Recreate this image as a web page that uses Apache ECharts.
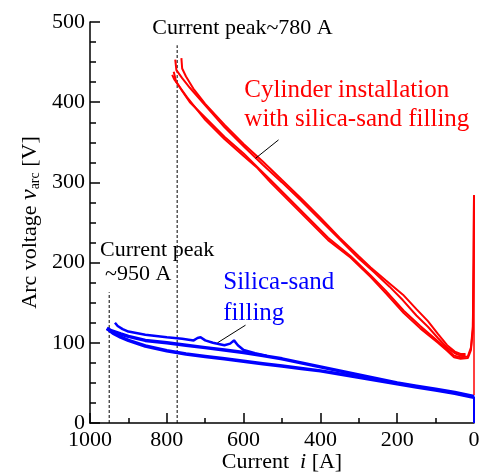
<!DOCTYPE html>
<html>
<head>
<meta charset="utf-8">
<script src="https://cdn.jsdelivr.net/npm/echarts@6/dist/echarts.min.js"></script>
<style>
  html, body { margin: 0; padding: 0; background: #fff; }
  #chart { width: 481px; height: 472px; }
</style>
</head>
<body>
<div id="chart"></div>
<script>
// Arc voltage vs current: red = cylinder + silica sand, blue = silica sand only.
// Each array is [current A, voltage V].

const X_TICKS = [0, 200, 400, 600, 800, 1000];
const Y_TICKS = [0, 100, 200, 300, 400, 500];

// red: upper branch (two cycles)
const redUp1 = [[762,455],[760,442],[750,432],[731,417],[700,398],[650,372],[600,348],[550,326],[500,303],[450,280],[400,256],[350,231],[300,208],[269,194],[230,178],[185,160],[150,142],[120,127],[94,111],[70,97],[50,89],[35,86],[22,86]];
const redUp2 = [[778,453],[775,440],[760,430],[740,418],[700,396],[650,369],[600,345],[550,322],[500,300],[450,277],[400,253],[350,229],[300,205],[260,188],[220,170],[185,153],[150,134],[120,120],[94,106],[70,94],[50,87],[35,84],[22,84]];
// red: lower branch (two cycles), ending in the re-ignition spike at i = 0
const redLo1 = [[786,434],[780,428],[765,418],[747,406],[700,378],[650,354],[600,333],[564,318],[530,300],[480,276],[430,252],[380,228],[321,206],[269,182],[230,162],[183,137],[140,118],[94,100],[70,90],[52,82],[35,80],[16,81],[8,91],[3,116],[1,200],[0,284]];
const redLo2 = [[782,438],[776,426],[760,414],[740,400],[700,381],[650,357],[600,336],[560,317],[530,303],[480,279],[430,255],[380,231],[321,208],[269,184],[230,165],[183,140],[140,121],[94,102],[70,92],[52,84],[35,82],[16,83],[8,94],[3,120],[1,210],[0,284]];
const redDrop = [[0,284],[0,35]];

// blue traces
const blueA = [[956,118],[940,112],[920,107],[900,103],[856,96],[800,90],[750,86],[700,83],[650,80],[600,77],[550,74],[500,71],[450,68],[400,65],[350,61],[300,57],[250,53],[200,49],[150,45],[100,41],[50,37],[10,33],[0,32]];
const blueB = [[956,118],[945,115],[920,111],[900,108],[856,103],[800,100],[750,97],[700,94],[650,91],[600,88],[550,84],[500,80],[450,75],[400,70],[350,65],[300,60],[250,55],[200,50],[150,46],[100,42],[50,38],[10,34],[0,33]];
const blueC = [[935,125],[928,121],[915,117],[900,114],[856,110],[800,107],[760,105],[730,103],[720,106],[712,107],[700,103],[680,100],[650,97],[635,99],[625,103],[615,97],[600,91],[570,87],[540,84]];
const blueDrop = [[0,33],[0,0]];

// current-peak markers and label leader lines
const peak950 = [[950,0],[950,163]];
const peak780 = [[773,0],[773,471]];
const leaderRed = [[509,353],[569,330]];
const leaderBlue = [[595,122],[668,100]];

// annotation texts: [current, voltage, text, colour]
const NOTES = [
  [838, 492, 'Current peak~780 A', '#000000'],
  [974, 216, 'Current peak', '#000000'],
  [961, 185, '~950 A', '#000000'],
  [598, 415, 'Cylinder installation', '#ff0000'],
  [598, 378, 'with silica-sand filling', '#ff0000'],
  [653, 175, 'Silica-sand', '#0000ff'],
  [653, 137, 'filling', '#0000ff'],
];

const FONT = "'Liberation Serif', 'Times New Roman', serif";
const RED = '#ff0000';
const BLUE = '#0000ff';

function trace(data, color, width, extra) {
  return Object.assign({
    type: 'line',
    data,
    showSymbol: false,
    silent: true,
    animation: false,
    lineStyle: { color, width },
    z: 3,
  }, extra || {});
}

const series = [
  trace(blueA, BLUE, 3.5),
  trace(blueB, BLUE, 3.5),
  trace(blueC, BLUE, 2.5),
  trace(blueDrop, BLUE, 2),
  trace(redUp1, RED, 2),
  trace(redUp2, RED, 2),
  trace(redLo1, RED, 2),
  trace(redLo2, RED, 2),
  trace(redDrop, RED, 1.5),
  trace(peak950, '#000', 1, { lineStyle: { color: '#000', width: 1, type: [3, 2] }, z: 2 }),
  trace(peak780, '#000', 1, { lineStyle: { color: '#000', width: 1, type: [3, 2] }, z: 2 }),
  trace(leaderRed, '#000', 1, { z: 4 }),
  trace(leaderBlue, '#000', 1, { z: 4 }),
];

NOTES.forEach(n => {
  const big = n[3] !== '#000000';
  series.push({
    type: 'scatter',
    data: [[n[0], n[1]]],
    symbolSize: 0,
    silent: true,
    animation: false,
    itemStyle: { opacity: 1 },
    label: {
      show: true,
      position: 'right',
      distance: 0,
      formatter: n[2],
      color: n[3],
      opacity: 1,
      textBorderWidth: 0,
      textBorderColor: 'transparent',
      fontFamily: FONT,
      fontSize: big ? 25 : 22,
    },
    z: 5,
  });
});

const chart = echarts.init(document.getElementById('chart'), null, { renderer: 'canvas' });
chart.setOption({
  backgroundColor: '#fff',
  animation: false,
  grid: { left: 90, right: 7, top: 22, bottom: 49, outerBoundsMode: 'none' },
  xAxis: {
    type: 'value',
    inverse: true,
    min: X_TICKS[0],
    max: X_TICKS[X_TICKS.length - 1],
    interval: 200,
    name: 'Current  {i|i} [A]',
    nameLocation: 'middle',
    nameGap: 28,
    nameMoveOverlap: false,
    nameTextStyle: {
      fontFamily: FONT, fontSize: 22, color: '#000', verticalAlign: 'top',
      rich: { i: { fontFamily: FONT, fontSize: 22, fontStyle: 'italic', color: '#000' } },
    },
    axisLine: { onZero: false, lineStyle: { color: '#000', width: 1.5 } },
    axisTick: { inside: true, length: 10, lineStyle: { color: '#000', width: 1.5 } },
    minorTick: { show: true, splitNumber: 2, length: 5, lineStyle: { color: '#000', width: 1.5 } },
    axisLabel: { margin: 6, fontFamily: FONT, fontSize: 22, color: '#000', formatter: v => String(v) },
    splitLine: { show: false },
  },
  yAxis: {
    type: 'value',
    min: Y_TICKS[0],
    max: Y_TICKS[Y_TICKS.length - 1],
    interval: 100,
    name: 'Arc voltage {i|v}{sub|arc} [V]',
    nameLocation: 'middle',
    nameRotate: 90,
    nameGap: 48,
    nameMoveOverlap: false,
    nameTextStyle: {
      fontFamily: FONT, fontSize: 22, color: '#000',
      rich: {
        i: { fontFamily: FONT, fontSize: 24, fontStyle: 'italic', color: '#000' },
        sub: { fontFamily: FONT, fontSize: 14, color: '#000', verticalAlign: 'bottom', padding: [10, 0, 0, 0] },
      },
    },
    axisLine: { onZero: false, lineStyle: { color: '#000', width: 1.5 } },
    axisTick: { inside: true, length: 10, lineStyle: { color: '#000', width: 1.5 } },
    minorTick: { show: true, splitNumber: 4, length: 6, lineStyle: { color: '#000', width: 1.5 } },
    axisLabel: { margin: 5, fontFamily: FONT, fontSize: 22, color: '#000', formatter: v => String(v) },
    splitLine: { show: false },
  },
  series,
});
</script>
</body>
</html>
